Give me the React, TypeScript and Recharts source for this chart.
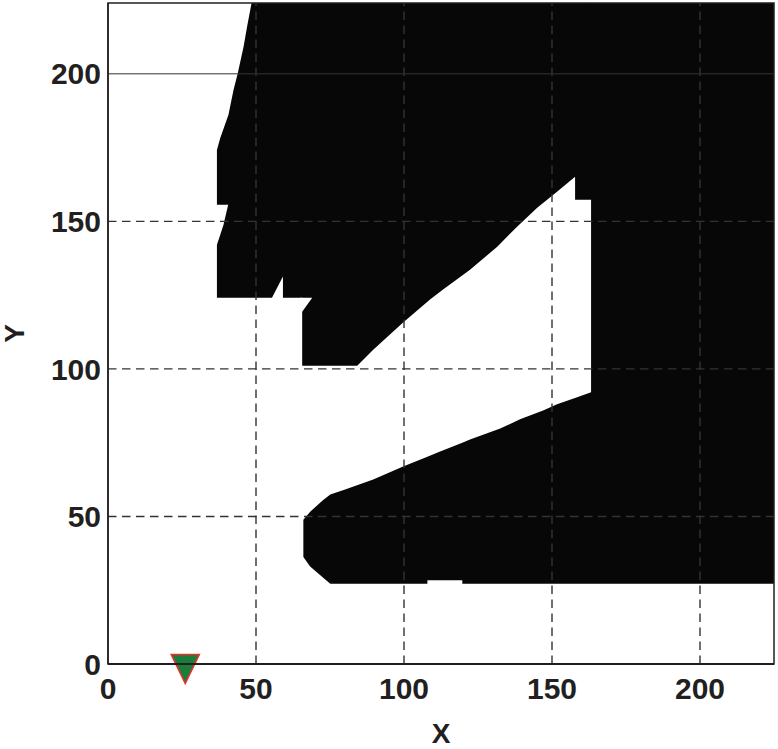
import React from 'react';
import {
  ComposedChart,
  Area,
  XAxis,
  YAxis,
  ReferenceLine,
  ReferenceArea,
  Scatter,
  Label,
} from 'recharts';

// ---- axis ticks ----
const xTicks = [0, 50, 100, 150, 200];
const yTicks = [0, 50, 100, 150, 200];
const xDomain = [0, 225];
const yDomain = [0, 224];

// ---- upper obstacle (black), range per x ----
const upperX = [36.8, 37.9, 40.7, 42.4, 43.8, 45.8, 47.0, 48.5, 65.6, 65.6, 84.2, 89.6, 99.7, 108.8, 113.2, 122.3, 131.5, 138.2, 145.0, 151.7, 157.8, 157.8, 166.0];
const upperLow = [124.1, 124.1, 124.1, 124.1, 124.1, 124.1, 124.1, 124.1, 124.1, 101.1, 101.1, 106.5, 115.7, 123.5, 126.9, 133.6, 141.4, 148.2, 154.6, 160.0, 165.1, 157.3, 157.3];
const upperHigh = [174.2, 178.2, 186.1, 194.5, 200.0, 209.2, 216.0, 224, 224, 224, 224, 224, 224, 224, 224, 224, 224, 224, 224, 224, 224, 224, 224];

// ---- lower obstacle (black), range per x ----
const lowerX = [66.0, 68.3, 72.7, 75.1, 80.1, 89.6, 99.7, 107.9, 107.9, 112.2, 119.7, 119.7, 122.3, 132.5, 139.2, 147.0, 151.7, 158.5, 163.2, 163.2, 225];
const lowerLow = [36.3, 33.0, 29.2, 27.2, 27.2, 27.2, 27.2, 27.2, 28.4, 28.4, 28.4, 27.2, 27.2, 27.2, 27.2, 27.2, 27.2, 27.2, 27.2, 27.2, 27.2];
const lowerHigh = [48.9, 51.6, 55.6, 57.4, 59.1, 62.5, 66.9, 70.2, 70.2, 72.0, 75.0, 75.0, 76.1, 79.8, 82.9, 85.9, 88.0, 90.4, 92.1, 224, 224];

// ---- free-space cut-outs (white) ----
const notchX = [36.0, 36.8, 37.9, 39.0, 40.6];
const notchLow = [142.1, 142.1, 145.4, 148.8, 155.6];
const notchHigh = [155.6, 155.6, 155.6, 155.6, 155.6];

const spikeX = [55.4, 59.1];
const spikeLow = [123.5, 123.5];
const spikeHigh = [124.1, 131.3];

const stepX = [65.0, 65.6, 69.0];
const stepLow = [119.4, 119.4, 124.1];
const stepHigh = [124.1, 124.1, 124.1];

// ---- robot / start marker ----
const markerX = [26.1];
const markerY = [0];

// ---- grid ----
const gridX = [50, 100, 150, 200];
const gridYDashed = [50, 100, 150];
const gridYSolid = [200];

const toRange = (xs: number[], lo: number[], hi: number[]) =>
  xs.map((x, i) => ({ x, range: [lo[i], hi[i]] }));

const upperData = toRange(upperX, upperLow, upperHigh);
const lowerData = toRange(lowerX, lowerLow, lowerHigh);
const notchData = toRange(notchX, notchLow, notchHigh);
const spikeData = toRange(spikeX, spikeLow, spikeHigh);
const stepData = toRange(stepX, stepLow, stepHigh);
const markerData = markerX.map((x, i) => ({ x, y: markerY[i] }));

const FONT = '"Liberation Sans", Arial, Helvetica, sans-serif';
const INK = '#231f20';
const BLACK = '#070707';
const GRID = '#333333';

const tickStyle = { fontFamily: FONT, fontWeight: 700, fontSize: 30, fill: INK };

const Triangle = (props: any) => {
  const { cx, cy } = props;
  if (cx == null || cy == null) return null;
  const w = 14;
  const up = 9.5;
  const down = 19.5;
  const pts = `${cx - w},${cy - up} ${cx + w},${cy - up} ${cx},${cy + down}`;
  return <polygon points={pts} fill="#1b7d3c" stroke="#e5322b" strokeWidth={1.6} strokeLinejoin="miter" />;
};

const YTitle = (props: any) => {
  const vb = props.viewBox || {};
  const cx = (vb.x ?? 0) + 13.5;
  const cy = (vb.y ?? 0) + (vb.height ?? 0) / 2;
  return (
    <text
      x={cx}
      y={cy}
      dy="0.36em"
      textAnchor="middle"
      transform={`rotate(-90, ${cx}, ${cy})`}
      style={{ fontFamily: FONT, fontWeight: 700, fontSize: 28, fill: INK }}
    >
      Y
    </text>
  );
};

const XTitle = (props: any) => {
  const vb = props.viewBox || {};
  const cx = (vb.x ?? 0) + (vb.width ?? 0) / 2;
  const by = (vb.y ?? 0) + (vb.height ?? 0) - 6;
  return (
    <text
      x={cx}
      y={by}
      textAnchor="middle"
      style={{ fontFamily: FONT, fontWeight: 700, fontSize: 28, fill: INK }}
    >
      X
    </text>
  );
};

export default function App() {
  return (
    <div style={{ position: 'absolute', left: 0, top: 0, width: 778, height: 749, background: '#fff' }}>
      <ComposedChart
        width={778}
        height={749}
        margin={{ top: 3, right: 4, bottom: 0, left: 0 }}
      >
        <XAxis
          type="number"
          dataKey="x"
          domain={xDomain}
          ticks={xTicks}
          interval={0}
          height={85}
          tickLine={false}
          tickSize={0}
          tickMargin={14}
          axisLine={{ stroke: INK, strokeWidth: 2 }}
          tick={tickStyle}
        >
          <Label content={<XTitle />} />
        </XAxis>
        <YAxis
          type="number"
          dataKey="y"
          domain={yDomain}
          ticks={yTicks}
          interval={0}
          width={108}
          tickLine={false}
          tickSize={0}
          tickMargin={7}
          axisLine={{ stroke: INK, strokeWidth: 1.5 }}
          tick={tickStyle}
        >
          <Label content={<YTitle />} />
        </YAxis>

        <Area
          data={upperData}
          dataKey="range"
          type="linear"
          stroke="none"
          fill={BLACK}
          fillOpacity={1}
          isAnimationActive={false}
          activeDot={false}
          dot={false}
          zIndex={100}
        />
        <Area
          data={lowerData}
          dataKey="range"
          type="linear"
          stroke="none"
          fill={BLACK}
          fillOpacity={1}
          isAnimationActive={false}
          activeDot={false}
          dot={false}
          zIndex={100}
        />
        <Area
          data={notchData}
          dataKey="range"
          type="linear"
          stroke="none"
          fill="#ffffff"
          fillOpacity={1}
          isAnimationActive={false}
          activeDot={false}
          dot={false}
          zIndex={150}
        />
        <Area
          data={spikeData}
          dataKey="range"
          type="linear"
          stroke="none"
          fill="#ffffff"
          fillOpacity={1}
          isAnimationActive={false}
          activeDot={false}
          dot={false}
          zIndex={150}
        />
        <Area
          data={stepData}
          dataKey="range"
          type="linear"
          stroke="none"
          fill="#ffffff"
          fillOpacity={1}
          isAnimationActive={false}
          activeDot={false}
          dot={false}
          zIndex={150}
        />

        {gridX.map((v) => (
          <ReferenceLine key={`gx${v}`} x={v} stroke={GRID} strokeWidth={1.4} strokeDasharray="8.5 5.5" zIndex={250} />
        ))}
        {gridYDashed.map((v) => (
          <ReferenceLine key={`gy${v}`} y={v} stroke={GRID} strokeWidth={1.4} strokeDasharray="8.5 5.5" zIndex={250} />
        ))}
        {gridYSolid.map((v) => (
          <ReferenceLine key={`gs${v}`} y={v} stroke={GRID} strokeWidth={1} zIndex={250} />
        ))}

        <Scatter
          data={markerData}
          dataKey="y"
          shape={<Triangle />}
          isAnimationActive={false}
          zIndex={450}
        />

        <ReferenceArea
          x1={0}
          x2={225}
          y1={0}
          y2={224}
          fill="none"
          fillOpacity={0}
          stroke={INK}
          strokeWidth={1.5}
          zIndex={700}
        />
      </ComposedChart>
    </div>
  );
}
